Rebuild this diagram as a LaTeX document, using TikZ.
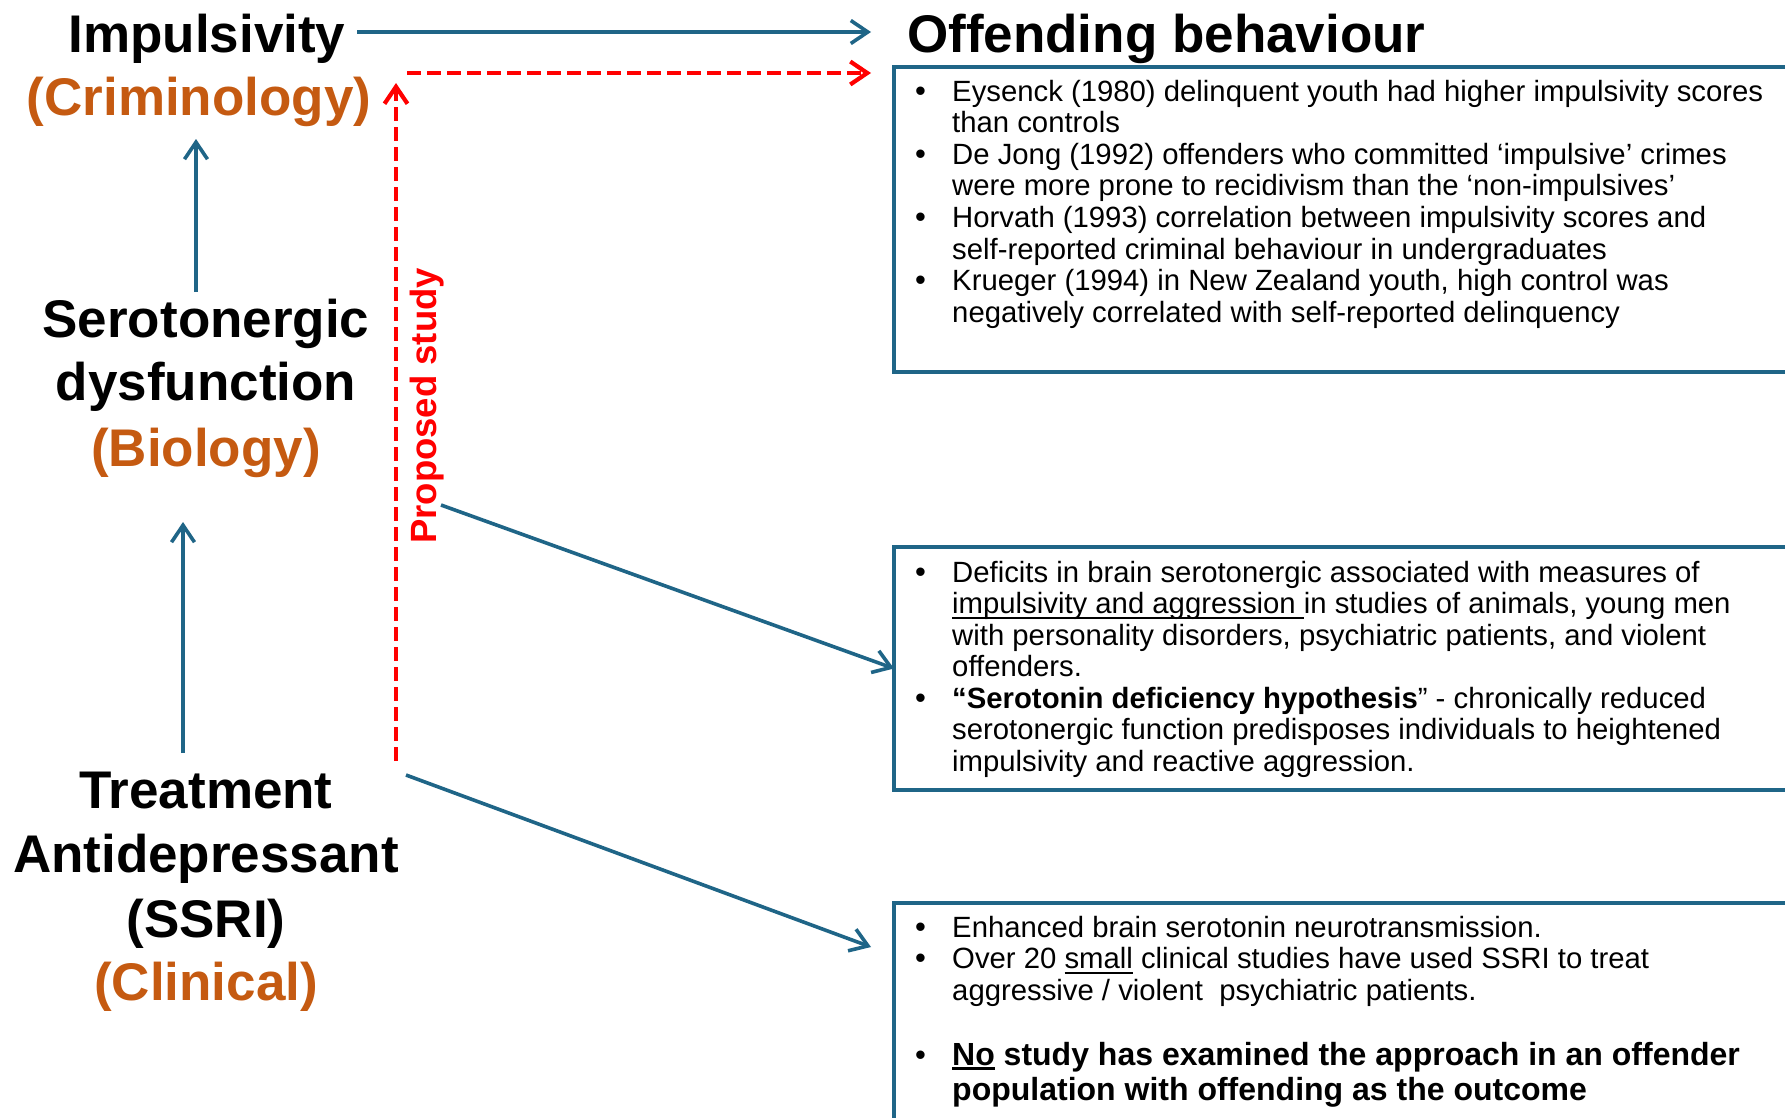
\documentclass[tikz,border=0pt]{standalone}
\usepackage{fontspec}
\setmainfont{Liberation Sans}
\usetikzlibrary{arrows.meta}
\definecolor{arrblue}{HTML}{1F6587}
\definecolor{boxblue}{HTML}{1F6587}
\definecolor{orng}{HTML}{C55A11}
\newcommand\bul{\llap{\makebox[37pt][l]{\fontsize{31}{31.6}\selectfont\mdseries •}}}
\newcommand\myul[2][2pt]{\setbox0=\hbox{#2}\rlap{\rule[-5pt]{\wd0}{#1}}\box0\relax}
\tikzset{
  title/.style={font=\fontsize{53}{63}\selectfont\bfseries, inner sep=0pt, anchor=base},
  sub/.style={title, text=orng},
  bx/.style={draw=boxblue, line width=3.4pt, anchor=north west, minimum width=930pt, inner sep=0pt, outer sep=0pt},
  txt/.style={font=\fontsize{29.3}{31.6}\selectfont, inner sep=0pt, anchor=base west},
  btxt/.style={font=\fontsize{32}{35}\selectfont\bfseries, inner sep=0pt, anchor=base west},
  arr/.style={draw=arrblue, line width=3.6pt, -{Straight Barb[length=17pt,width=23pt]}},
  redarr/.style={draw=red, line width=4.2pt, dash pattern=on 14pt off 6pt, -{Straight Barb[length=17pt,width=23pt]}},
}
\begin{document}
\begin{tikzpicture}[x=1pt,y=-1pt]
\useasboundingbox (0,0) rectangle (1785,1117);
\fill[white] (0,0) rectangle (1785,1117);
\clip (0,0) rectangle (1785,1117);

% left column
\node[title] (imp) at (207,52) {Impulsivity};
\node[sub] (crim) at (199,115) {(Criminology)};
\node[title] (ser) at (206,337) {Serotonergic};
\node[title] (dys) at (206,400) {dysfunction};
\node[sub] (bio) at (206,466) {(Biology)};
\node[title] (trt) at (206,808) {Treatment};
\node[title] (anti) at (206,872) {Antidepressant};
\node[title] (ssri) at (206,937) {(SSRI)};
\node[sub] (clin) at (206,1000) {(Clinical)};

\node[title, anchor=base west] (off) at (907,52) {Offending behaviour};

\node[rotate=90, anchor=base west, inner sep=0pt, text=red,
      font=\fontsize{36.5}{40}\selectfont\bfseries] (prop) at (436,544) {Proposed study};

% boxes
\node[bx, minimum height=305pt] (box1) at (894,67) {};
\node[bx, minimum height=243pt] (box2) at (894,547) {};
\node[bx, minimum height=300pt] (box3) at (894,903) {};

% box 1 text
\node[txt] (t11) at (952,101) {\bul Eysenck (1980) delinquent youth had higher impulsivity scores};
\node[txt] (t12) at (952,132.6) {than controls};
\node[txt] (t13) at (952,164.2) {\bul De Jong (1992) offenders who committed ‘impulsive’ crimes};
\node[txt] (t14) at (952,195.8) {were more prone to recidivism than the ‘non-impulsives’};
\node[txt] (t15) at (952,227.4) {\bul Horvath (1993) correlation between impulsivity scores and};
\node[txt] (t16) at (952,259) {self-reported criminal behaviour in undergraduates};
\node[txt] (t17) at (952,290.6) {\bul Krueger (1994) in New Zealand youth, high control was};
\node[txt] (t18) at (952,322.2) {negatively correlated with self-reported delinquency};

% box 2 text
\node[txt] (t21) at (952,582) {\bul Deficits in brain serotonergic associated with measures of};
\node[txt] (t22) at (952,613.5) {\myul{impulsivity and aggression\ }in studies of animals, young men};
\node[txt] (t23) at (952,645) {with personality disorders, psychiatric patients, and violent};
\node[txt] (t24) at (952,676.5) {offenders.};
\node[txt] (t25) at (952,708) {\bul \textbf{“Serotonin deficiency hypothesis}” - chronically reduced};
\node[txt] (t26) at (952,739.5) {serotonergic function predisposes individuals to heightened};
\node[txt] (t27) at (952,771) {impulsivity and reactive aggression.};

% box 3 text
\node[txt] (t31) at (952,937) {\bul Enhanced brain serotonin neurotransmission.};
\node[txt] (t32) at (952,968.5) {\bul Over 20 \myul{small} clinical studies have used SSRI to treat};
\node[txt] (t33) at (952,1000) {aggressive / violent\ \ psychiatric patients.};
\node[btxt] (t34) at (952,1065) {\bul \myul[2.6pt]{No} study has examined the approach in an offender};
\node[btxt] (t35) at (952,1100) {population with offending as the outcome};

% connectors
\coordinate (a1s) at (357,32);  \coordinate (a1e) at (871,32);
\coordinate (u1s) at (196,292); \coordinate (u1e) at (196,139);
\coordinate (u2s) at (183,753); \coordinate (u2e) at (183,522);
\coordinate (rvs) at (396,761); \coordinate (rve) at (396,83);
\coordinate (rhs) at (407,73);  \coordinate (rhe) at (871,73);
\coordinate (d1s) at (441,505);
\coordinate (d2s) at (406,775); \coordinate (d2e) at (871,947);

\draw[arr] (a1s) -- (a1e);
\draw[arr] (u1s) -- (u1e);
\draw[arr] (u2s) -- (u2e);
\draw[redarr] (rvs) -- (rve);
\draw[redarr] (rhs) -- (rhe);
\draw[arr] (d1s) -- (box2.west);
\draw[arr] (d2s) -- (d2e);
\end{tikzpicture}
\end{document}
